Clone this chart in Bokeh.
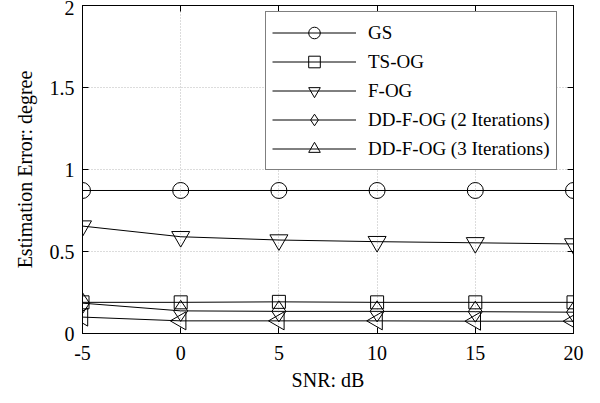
import math
from bokeh.plotting import figure
from bokeh.models import Range1d, LinearAxis, FixedTicker, Legend, LegendItem
from bokeh.embed import file_html
from bokeh.resources import INLINE

snr = [-5, 0, 5, 10, 15, 20]
gs = [0.872, 0.872, 0.872, 0.872, 0.872, 0.872]
ts_og = [0.19, 0.19, 0.193, 0.19, 0.19, 0.19]
f_og = [0.655, 0.59, 0.57, 0.56, 0.553, 0.546]
dd2 = [0.185, 0.138, 0.135, 0.135, 0.133, 0.13]
dd3 = [0.1, 0.077, 0.077, 0.077, 0.075, 0.075]

x_ticks = [-5, 0, 5, 10, 15, 20]
x_tick_labels = {-5: "-5", 0: "0", 5: "5", 10: "10", 15: "15", 20: "20"}
y_ticks = [0, 0.5, 1, 1.5, 2]
y_tick_labels = {0: "0", 0.5: "0.5", 1: "1", 1.5: "1.5", 2: "2"}

FONT = "Liberation Serif"

p = figure(width=600, height=403, output_backend="svg", toolbar_location=None,
           x_range=Range1d(-5, 20), y_range=Range1d(0, 2),
           min_border_left=82, min_border_right=27, min_border_top=5, min_border_bottom=70)
p.background_fill_color = "white"
p.border_fill_color = "white"
p.outline_line_color = "black"
p.outline_line_width = 1

for ax in p.xaxis + p.yaxis:
    ax.major_tick_in = 6
    ax.major_tick_out = 0
    ax.minor_tick_line_color = None
    ax.axis_line_color = "black"
    ax.major_tick_line_color = "black"
    ax.major_label_text_font = FONT
    ax.major_label_text_font_size = "20px"
    ax.major_label_text_color = "black"
    ax.axis_label_text_font = FONT
    ax.axis_label_text_font_size = "20px"
    ax.axis_label_text_font_style = "normal"
    ax.axis_label_text_color = "black"

p.xaxis.ticker = FixedTicker(ticks=x_ticks)
p.yaxis.ticker = FixedTicker(ticks=y_ticks)
p.xaxis.major_label_overrides = x_tick_labels
p.yaxis.major_label_overrides = y_tick_labels
p.xaxis.axis_label = "SNR: dB"
p.yaxis.axis_label = "Estimation Error: degree"
p.xaxis.major_label_standoff = 12
p.xaxis.axis_label_standoff = 6
p.yaxis.major_label_standoff = 8
p.yaxis.axis_label_standoff = 11

top = LinearAxis(ticker=FixedTicker(ticks=x_ticks), major_tick_in=6, major_tick_out=0,
                 minor_tick_line_color=None, major_label_text_font_size="1px",
                 major_label_text_color=None, major_label_standoff=0,
                 axis_line_color="black")
right = LinearAxis(ticker=FixedTicker(ticks=y_ticks), major_tick_in=6, major_tick_out=0,
                   minor_tick_line_color=None, major_label_text_font_size="1px",
                   major_label_text_color=None, major_label_standoff=0,
                   axis_line_color="black")
p.add_layout(top, "above")
p.add_layout(right, "right")

p.xgrid.ticker = FixedTicker(ticks=x_ticks)
p.ygrid.ticker = FixedTicker(ticks=y_ticks)
for g in (p.xgrid, p.ygrid):
    g.grid_line_color = "#b8b8b8"
    g.grid_line_dash = "1 2"
    g.grid_line_width = 1

series = [
    ("GS", gs, "circle", 16, 0.0),
    ("TS-OG", ts_og, "square", 13, 0.0),
    ("F-OG", f_og, "inverted_triangle", 18, 0.0),
    ("DD-F-OG (2 Iterations)", dd2, "diamond", 21, 0.0),
    ("DD-F-OG (3 Iterations)", dd3, "triangle", 18, math.pi / 2),
]

items = []
for name, ys, marker, size, ang in series:
    ln = p.line(snr, ys, line_color="black", line_width=1)
    sc = p.scatter(snr, ys, marker=marker, size=size, angle=ang,
                   line_color="black", line_width=1, fill_alpha=0)
    items.append(LegendItem(label=name, renderers=[ln, sc]))

legend = Legend(items=items, location=(183, 163))
legend.label_text_font = FONT
legend.label_text_font_size = "19px"
legend.label_text_color = "black"
legend.glyph_width = 84
legend.glyph_height = 29
legend.label_height = 29
legend.spacing = 0
legend.padding = 6
legend.label_standoff = 12
legend.margin = 0
legend.border_line_color = "black"
legend.border_line_width = 1
legend.background_fill_color = "white"
legend.background_fill_alpha = 1
p.add_layout(legend, "center")

open("out.html", "w").write(file_html(p, INLINE))
